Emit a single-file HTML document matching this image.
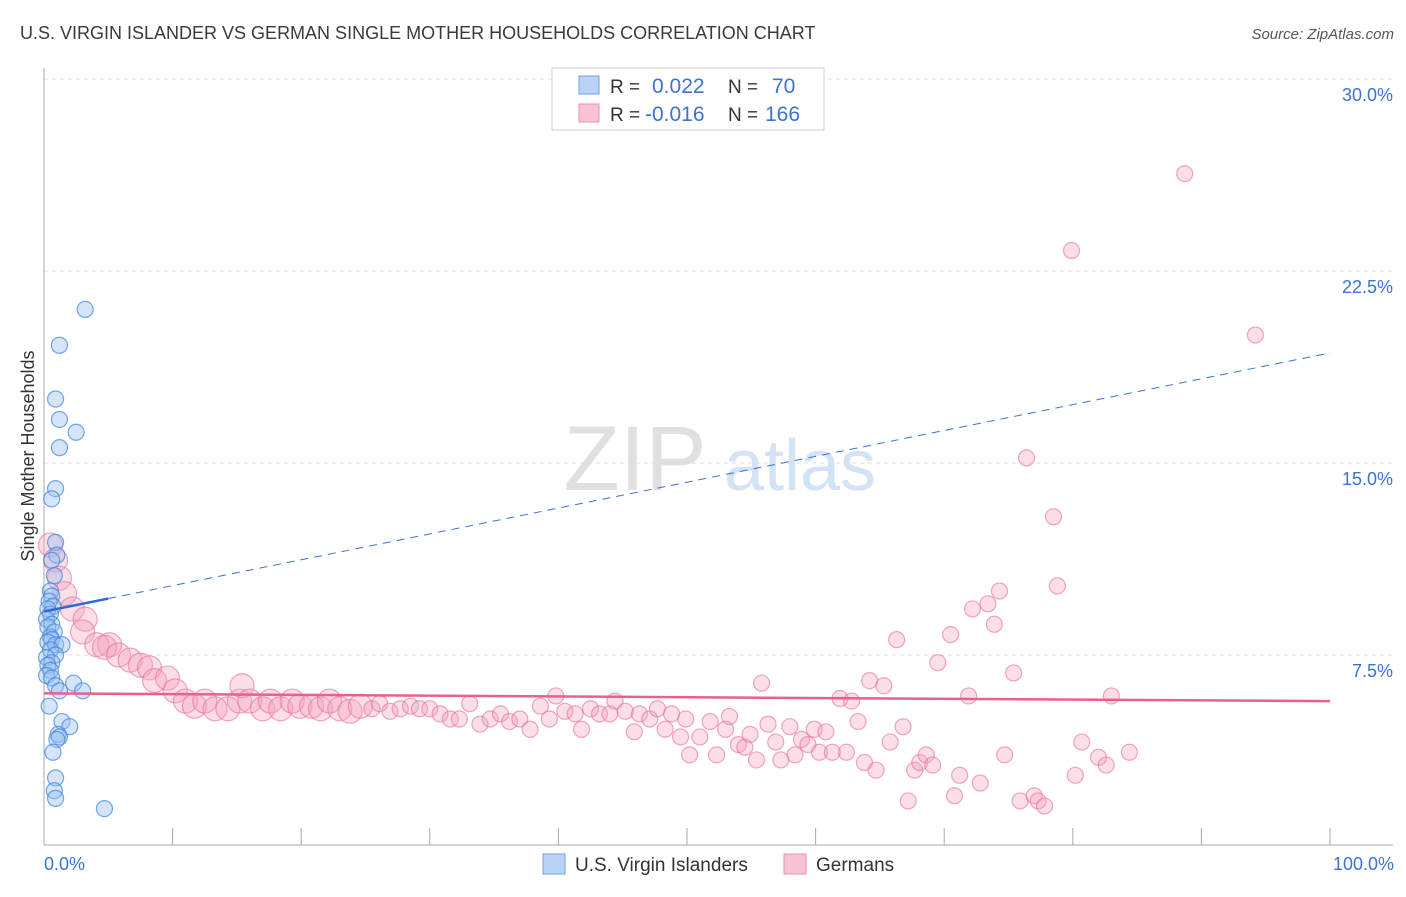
<!DOCTYPE html>
<html><head><meta charset="utf-8"><style>
body{margin:0;background:#fff;font-family:"Liberation Sans",sans-serif;}
svg text{font-family:"Liberation Sans",sans-serif;}
</style></head><body>
<svg id="chart" width="1406" height="892" xmlns="http://www.w3.org/2000/svg">
<text x="20" y="39" font-size="18" fill="#3a3a3a">U.S. VIRGIN ISLANDER VS GERMAN SINGLE MOTHER HOUSEHOLDS CORRELATION CHART</text>
<text x="1394" y="39" font-size="15" fill="#555" text-anchor="end" font-style="italic">Source: ZipAtlas.com</text>
<g>
<text x="635" y="490" font-size="92" fill="#d9d9d9" text-anchor="middle" font-family="Liberation Serif" opacity="0.8">ZIP</text>
<text x="800" y="490" font-size="72" fill="#c9dbf2" text-anchor="middle" opacity="0.8">atlas</text>
</g>
<text transform="translate(34,456) rotate(-90)" font-size="18" fill="#333" text-anchor="middle">Single Mother Households</text>
<g id="grid"></g>
<g id="axes"></g>
<g id="marks"></g>
<g>
<rect x="552" y="68" width="272" height="62" fill="#fff" stroke="#ccc"/>
<rect x="579" y="76" width="20" height="18" fill="#b8d3f5" stroke="#6fa0e0"/>
<text x="610" y="93" font-size="19" fill="#333">R =</text>
<text x="652" y="93" font-size="21" fill="#3b73d1">0.022</text>
<text x="728" y="93" font-size="19" fill="#333">N =</text>
<text x="772" y="93" font-size="21" fill="#3b73d1">70</text>
<rect x="579" y="104" width="20" height="18" fill="#f8c3d2" stroke="#ec8fab"/>
<text x="610" y="121" font-size="19" fill="#333">R =</text>
<text x="645" y="121" font-size="21" fill="#3b73d1">-0.016</text>
<text x="728" y="121" font-size="19" fill="#333">N =</text>
<text x="765" y="121" font-size="21" fill="#3b73d1">166</text>
</g>
<g>
<rect x="543" y="854" width="22" height="20" fill="#b8d3f5" stroke="#6fa0e0"/>
<text x="575" y="871" font-size="19" fill="#333">U.S. Virgin Islanders</text>
<rect x="784" y="854" width="22" height="20" fill="#f8c3d2" stroke="#ec8fab"/>
<text x="816" y="871" font-size="19" fill="#333">Germans</text>
</g>
<text x="44" y="870" font-size="18" fill="#3b73d1">0.0%</text>
<text x="1394" y="870" font-size="18" fill="#3b73d1" text-anchor="end">100.0%</text>
</svg>
<script>
const yTicks=[7.5,15,22.5,30];
const yTickLabels=["7.5%","15.0%","22.5%","30.0%"];
const xTicks=[0,10,20,30,40,50,60,70,80,90,100];
const blueX=[3.2,1.2,0.9,1.2,2.5,1.2,0.9,0.6,0.9,1.0,0.6,0.8,0.5,0.6,0.4,0.7,0.3,0.5,0.2,0.6,0.3,0.8,0.5,0.6,0.3,0.9,1.4,0.5,0.9,0.2,0.6,0.3,0.5,0.2,0.6,0.9,2.3,3.0,1.2,0.4,1.4,2.0,1.1,1.2,1.0,0.7,0.9,0.8,0.9,4.7];
const blueY=[21.0,19.6,17.5,16.7,16.2,15.6,14.0,13.6,11.9,11.4,11.2,10.6,10.0,9.8,9.6,9.4,9.3,9.1,8.9,8.7,8.6,8.4,8.2,8.1,8.0,7.9,7.9,7.7,7.5,7.4,7.2,7.1,6.9,6.7,6.6,6.3,6.4,6.1,6.1,5.5,4.9,4.7,4.4,4.3,4.2,3.7,2.7,2.2,1.9,1.5];
const pinkX=[0.5,0.9,1.2,1.6,2.2,3.2,3.0,4.1,5.1,4.7,5.8,6.7,7.5,8.2,8.6,9.6,10.2,11.0,11.7,12.5,13.3,14.3,15.2,15.4,16.0,17.0,17.6,18.4,19.3,19.9,20.8,21.5,22.2,23.0,23.8,24.6,25.5,26.1,26.9,27.7,28.5,29.2,30.0,30.8,31.6,32.3,33.1,33.9,34.7,35.5,36.2,37.0,37.8,38.6,39.3,39.8,40.5,41.3,41.8,42.5,43.2,44.0,44.4,45.2,45.9,46.3,47.1,47.7,48.3,48.8,49.5,49.9,50.2,51.0,51.8,52.3,53.0,53.3,54.0,54.5,54.9,55.4,55.8,56.3,56.9,57.3,58.0,58.4,58.9,59.4,59.9,60.3,60.8,61.3,61.9,62.4,62.8,63.3,63.8,64.2,64.7,65.3,65.8,66.3,66.8,67.2,67.7,68.1,68.6,69.1,69.5,70.5,70.8,71.2,71.9,72.2,72.8,73.4,73.9,74.3,74.7,75.4,75.9,76.4,77.0,77.3,77.8,78.5,78.8,79.9,80.2,80.7,82.0,82.6,83.0,84.4,88.7,94.2];
const pinkY=[11.8,11.2,10.5,9.9,9.3,8.9,8.4,7.9,7.9,7.8,7.5,7.3,7.1,7.0,6.5,6.6,6.1,5.7,5.5,5.7,5.4,5.4,5.7,6.3,5.7,5.4,5.7,5.4,5.7,5.5,5.5,5.4,5.7,5.4,5.3,5.5,5.4,5.6,5.3,5.4,5.5,5.4,5.4,5.2,5.0,5.0,5.6,4.8,5.0,5.2,4.9,5.0,4.6,5.5,5.0,5.9,5.3,5.2,4.6,5.4,5.2,5.2,5.7,5.3,4.5,5.2,5.0,5.4,4.6,5.2,4.3,5.0,3.6,4.3,4.9,3.6,4.6,5.1,4.0,3.9,4.4,3.4,6.4,4.8,4.1,3.4,4.7,3.6,4.2,4.0,4.6,3.7,4.5,3.7,5.8,3.7,5.7,4.9,3.3,6.5,3.0,6.3,4.1,8.1,4.7,1.8,3.0,3.3,3.6,3.2,7.2,8.3,2.0,2.8,5.9,9.3,2.5,9.5,8.7,10.0,3.6,6.8,1.8,15.2,2.0,1.8,1.6,12.9,10.2,23.3,2.8,4.1,3.5,3.2,5.9,3.7,26.3,20.0];
const blueTrend=[9.2,19.3];
const pinkTrend=[6.0,5.7];
const NS="http://www.w3.org/2000/svg";
const X0=44,X1=1330,Y0=847,PXY=25.6;
function sx(v){return X0+(X1-X0)*v/100;}
function sy(v){return Y0-PXY*v;}
function mk(tag,attrs,parent){const e=document.createElementNS(NS,tag);for(const k in attrs)e.setAttribute(k,attrs[k]);parent.appendChild(e);return e;}
const grid=document.getElementById('grid'),axes=document.getElementById('axes'),marks=document.getElementById('marks');
yTicks.forEach((t,i)=>{
 const l=mk('line',{x1:X0,x2:1393,y1:sy(t),y2:sy(t),stroke:'#ddd','stroke-dasharray':'4,4'},grid);
 
 
 const tx=mk('text',{x:1393,y:sy(t)+22,'font-size':18,fill:'#3b73d1','text-anchor':'end'},grid);
 tx.textContent=yTickLabels[i];
 
 
});
const ya=mk('line',{x1:X0,x2:X0,y1:68,y2:845,stroke:'#aaa'},axes);


const xa=mk('line',{x1:X0,x2:1393,y1:845,y2:845,stroke:'#aaa'},axes);


xTicks.forEach(t=>{
 const l=mk('line',{x1:sx(t),x2:sx(t),y1:828,y2:845,stroke:'#aaa'},axes);
 
 
});
pinkX.forEach((v,i)=>{
 const c=mk('circle',{cx:sx(v),cy:sy(pinkY[i]),r:v<25?12:8,fill:'rgba(244,160,186,0.35)',stroke:'rgba(232,110,148,0.6)','stroke-width':1.2},marks);
 
 
});
blueX.forEach((v,i)=>{
 const c=mk('circle',{cx:sx(v),cy:sy(blueY[i]),r:8,fill:'rgba(150,190,240,0.4)',stroke:'rgba(60,130,220,0.7)','stroke-width':1.2},marks);
 
 
});
const bt=v=>blueTrend[0]+(blueTrend[1]-blueTrend[0])*v/100;
const bd=mk('line',{x1:sx(5),y1:sy(bt(5)),x2:sx(100),y2:sy(bt(100)),stroke:'#3b73d1','stroke-width':1,'stroke-dasharray':'8,6'},marks);


const bs=mk('line',{x1:sx(0),y1:sy(bt(0)),x2:sx(5),y2:sy(bt(5)),stroke:'#2f6ad0','stroke-width':2.5},marks);


const pt=mk('line',{x1:sx(0),y1:sy(pinkTrend[0]),x2:sx(100),y2:sy(pinkTrend[1]),stroke:'#e8608c','stroke-width':2.5},marks);


</script>
</body></html>
